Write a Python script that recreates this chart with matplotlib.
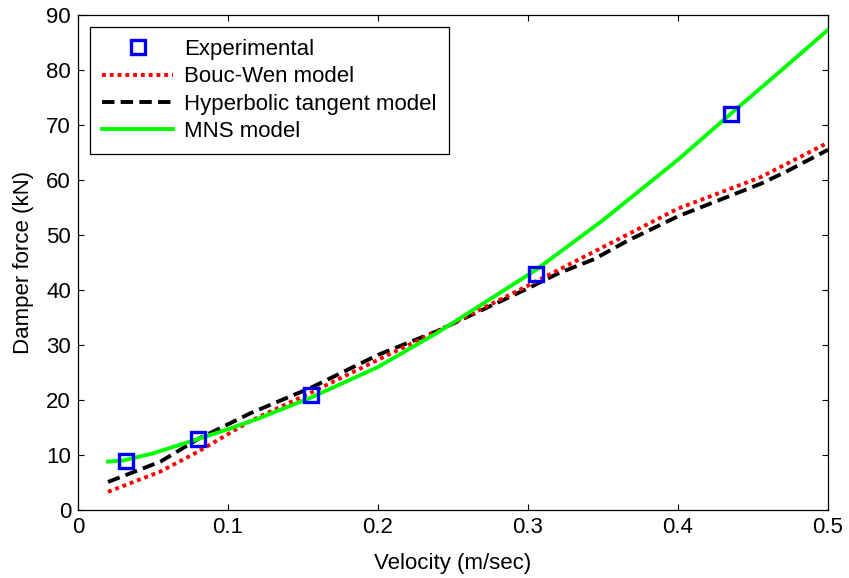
import numpy as np
import matplotlib
matplotlib.use("Agg")
import matplotlib.pyplot as plt

plt.rcParams['font.family'] = ['Liberation Sans', 'DejaVu Sans']

# Dati
exp_v = [0.032, 0.080, 0.155, 0.305, 0.435]
exp_f = [9.0, 13.0, 21.0, 43.0, 72.0]

bw_v = [0.02, 0.055, 0.08, 0.115, 0.155, 0.2, 0.24, 0.3, 0.32, 0.365, 0.4, 0.455, 0.5]
bw_f = [3.3, 7.0, 10.6, 16.2, 21.3, 27.3, 32.6, 40.8, 43.6, 49.9, 54.8, 60.5, 66.8]

ht_v = [0.02, 0.055, 0.08, 0.115, 0.155, 0.2, 0.24, 0.3, 0.32, 0.344, 0.366, 0.4, 0.455, 0.472, 0.5]
ht_f = [5.1, 8.8, 12.9, 17.6, 22.2, 28.2, 32.6, 40.3, 43.0, 45.6, 48.9, 53.4, 59.3, 61.5, 65.5]

mns_v = [0.02, 0.03, 0.05, 0.08, 0.1, 0.12, 0.155, 0.2, 0.24, 0.29, 0.305, 0.35, 0.4, 0.435, 0.47, 0.5]
mns_f = [8.8, 9.0, 10.3, 12.9, 14.7, 16.6, 20.4, 26.0, 32.3, 41.0, 43.6, 52.7, 63.7, 72.0, 80.2, 87.3]

fs = 16

fig = plt.figure(figsize=(8.49, 5.78), dpi=100)
ax = fig.add_axes([78 / 849, 1 - 510 / 578, 750 / 849, 495 / 578])

ax.plot(exp_v, exp_f, linestyle="none", marker="s", markersize=10,
        markerfacecolor="none", markeredgecolor=(0, 0, 1), markeredgewidth=2.4,
        label="Experimental", zorder=5)
ax.plot(bw_v, bw_f, color=(1, 0, 0), linewidth=2.8, dashes=(1, 1),
        label="Bouc-Wen model", zorder=3)
ax.plot(ht_v, ht_f, color="black", linewidth=2.8, dashes=(3.2, 1.6),
        label="Hyperbolic tangent model", zorder=2)
ax.plot(mns_v, mns_f, color=(0, 1, 0), linewidth=2.8,
        label="MNS model", zorder=4)

ax.set_xlim(0, 0.5)
ax.set_ylim(0, 90)
ax.set_xticks([0, 0.1, 0.2, 0.3, 0.4, 0.5])
ax.set_xticklabels(["0", "0.1", "0.2", "0.3", "0.4", "0.5"])
ax.set_yticks(np.arange(0, 91, 10))
ax.tick_params(direction="in", top=True, right=True, length=4.5, width=0.8,
               labelsize=fs, pad=5)
for s in ax.spines.values():
    s.set_linewidth(0.9)

ax.set_xlabel("Velocity (m/sec)", fontsize=fs, labelpad=11)
ax.set_ylabel("Damper force (kN)", fontsize=fs, labelpad=9)

leg = ax.legend(loc="upper left", bbox_to_anchor=(0.016, 0.976), fontsize=fs,
                handlelength=3.2, labelspacing=0.28, borderpad=0.55,
                handletextpad=0.5, fancybox=False, framealpha=1, borderaxespad=0)
leg.get_frame().set_edgecolor("black")
leg.get_frame().set_linewidth(0.9)

fig.savefig("out.png", dpi=100)
